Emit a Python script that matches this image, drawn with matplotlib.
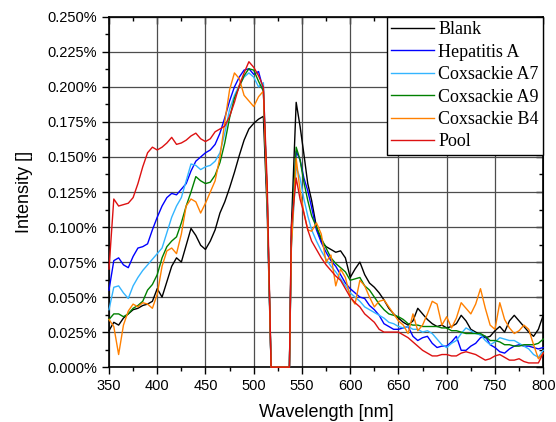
import numpy as np
import matplotlib
matplotlib.use("Agg")
import matplotlib.pyplot as plt
from matplotlib.ticker import MultipleLocator, FuncFormatter

# wavelength grid [nm]: left band, notch edges, right band
wl = list(range(350, 511, 5)) + [514, 518, 537, 539, 544, 548, 552, 556] + list(range(560, 801, 5))

# intensities in percent
blank = [0.026, 0.032, 0.030, 0.035, 0.038, 0.041, 0.042, 0.044, 0.045, 0.047,
         0.056, 0.050, 0.061, 0.072, 0.078, 0.075, 0.087, 0.099, 0.094, 0.087,
         0.084, 0.090, 0.098, 0.110, 0.118, 0.128, 0.139, 0.151, 0.162, 0.170,
         0.174, 0.177, 0.179,
         0.110, 0.0, 0.0, 0.100, 0.189, 0.172, 0.152, 0.131,
         0.119, 0.100, 0.090, 0.086, 0.084, 0.082, 0.083, 0.078, 0.064, 0.070,
         0.075, 0.066, 0.060, 0.057, 0.053, 0.048, 0.042, 0.038, 0.035, 0.032,
         0.030, 0.033, 0.042, 0.038, 0.034, 0.031, 0.029, 0.030, 0.028, 0.029,
         0.031, 0.037, 0.033, 0.027, 0.025, 0.023, 0.021, 0.022, 0.026, 0.029,
         0.025, 0.033, 0.037, 0.033, 0.029, 0.025, 0.022, 0.027, 0.037]

hepatitis_a = [0.055, 0.076, 0.078, 0.073, 0.071, 0.079, 0.085, 0.086, 0.088, 0.098,
               0.107, 0.115, 0.121, 0.124, 0.123, 0.127, 0.131, 0.140, 0.147, 0.150,
               0.153, 0.155, 0.159, 0.167, 0.178, 0.190, 0.200, 0.207, 0.212, 0.213,
               0.209, 0.211, 0.198,
               0.120, 0.0, 0.0, 0.090, 0.154, 0.148, 0.135, 0.126,
               0.114, 0.098, 0.089, 0.082, 0.076, 0.072, 0.066, 0.060, 0.056, 0.053,
               0.050, 0.049, 0.044, 0.041, 0.037, 0.031, 0.029, 0.027, 0.027, 0.028,
               0.029, 0.022, 0.019, 0.021, 0.022, 0.017, 0.014, 0.015, 0.015, 0.018,
               0.022, 0.012, 0.012, 0.015, 0.017, 0.021, 0.022, 0.016, 0.014, 0.011,
               0.010, 0.013, 0.015, 0.016, 0.015, 0.015, 0.014, 0.013, 0.014]

coxsackie_a7 = [0.041, 0.057, 0.058, 0.053, 0.049, 0.058, 0.064, 0.069, 0.073, 0.077,
                0.081, 0.085, 0.096, 0.107, 0.115, 0.121, 0.133, 0.145, 0.144, 0.141,
                0.143, 0.144, 0.147, 0.153, 0.167, 0.184, 0.194, 0.201, 0.207, 0.210,
                0.207, 0.200, 0.203,
                0.120, 0.0, 0.0, 0.085, 0.143, 0.135, 0.120, 0.108,
                0.098, 0.090, 0.083, 0.077, 0.072, 0.068, 0.063, 0.058, 0.053, 0.050,
                0.047, 0.043, 0.041, 0.039, 0.037, 0.035, 0.032, 0.031, 0.029, 0.028,
                0.029, 0.027, 0.027, 0.025, 0.026, 0.024, 0.020, 0.016, 0.014, 0.017,
                0.019, 0.024, 0.028, 0.026, 0.024, 0.023, 0.019, 0.016, 0.018, 0.021,
                0.020, 0.019, 0.019, 0.017, 0.015, 0.013, 0.009, 0.007, 0.012]

coxsackie_a9 = [0.034, 0.038, 0.038, 0.036, 0.038, 0.042, 0.044, 0.047, 0.055, 0.059,
                0.066, 0.078, 0.086, 0.090, 0.093, 0.103, 0.115, 0.125, 0.136, 0.133,
                0.131, 0.132, 0.137, 0.146, 0.160, 0.178, 0.192, 0.200, 0.208, 0.213,
                0.212, 0.204, 0.197,
                0.120, 0.0, 0.0, 0.090, 0.157, 0.148, 0.132, 0.119,
                0.108, 0.100, 0.092, 0.085, 0.078, 0.074, 0.071, 0.068, 0.062, 0.063,
                0.064, 0.058, 0.055, 0.050, 0.045, 0.041, 0.038, 0.037, 0.036, 0.034,
                0.031, 0.030, 0.030, 0.029, 0.029, 0.029, 0.029, 0.028, 0.028, 0.026,
                0.026, 0.025, 0.024, 0.024, 0.024, 0.024, 0.022, 0.019, 0.019, 0.018,
                0.016, 0.016, 0.015, 0.015, 0.016, 0.016, 0.016, 0.017, 0.020]

coxsackie_b4 = [0.034, 0.029, 0.009, 0.030, 0.040, 0.045, 0.043, 0.046, 0.045, 0.042,
                0.052, 0.072, 0.083, 0.085, 0.081, 0.095, 0.115, 0.120, 0.118, 0.110,
                0.117, 0.125, 0.133, 0.150, 0.175, 0.198, 0.210, 0.206, 0.194, 0.190,
                0.186, 0.193, 0.197,
                0.120, 0.0, 0.0, 0.085, 0.149, 0.126, 0.110, 0.098,
                0.097, 0.103, 0.095, 0.075, 0.080, 0.058, 0.070, 0.064, 0.050, 0.045,
                0.062, 0.058, 0.050, 0.043, 0.047, 0.048, 0.043, 0.038, 0.033, 0.030,
                0.024, 0.038, 0.026, 0.030, 0.038, 0.047, 0.045, 0.030, 0.036, 0.028,
                0.035, 0.046, 0.042, 0.038, 0.045, 0.056, 0.042, 0.030, 0.027, 0.046,
                0.034, 0.028, 0.024, 0.026, 0.030, 0.027, 0.016, 0.006, 0.010]

pool = [0.070, 0.120, 0.115, 0.116, 0.117, 0.121, 0.131, 0.143, 0.153, 0.157,
        0.155, 0.157, 0.160, 0.164, 0.159, 0.160, 0.162, 0.165, 0.167, 0.163,
        0.161, 0.163, 0.168, 0.170, 0.172, 0.179, 0.189, 0.201, 0.210, 0.218,
        0.214, 0.208, 0.200,
        0.130, 0.0, 0.0, 0.100, 0.135, 0.120, 0.110, 0.098,
        0.090, 0.084, 0.078, 0.073, 0.069, 0.065, 0.062, 0.056, 0.050, 0.046,
        0.043, 0.038, 0.035, 0.032, 0.027, 0.025, 0.025, 0.025, 0.025, 0.023,
        0.021, 0.018, 0.015, 0.012, 0.010, 0.008, 0.008, 0.009, 0.009, 0.008,
        0.008, 0.010, 0.011, 0.010, 0.009, 0.007, 0.005, 0.006, 0.008, 0.009,
        0.007, 0.005, 0.005, 0.006, 0.004, 0.003, 0.003, 0.003, 0.010]

names = ["Blank", "Hepatitis A", "Coxsackie A7", "Coxsackie A9", "Coxsackie B4", "Pool"]
series = [blank, hepatitis_a, coxsackie_a7, coxsackie_a9, coxsackie_b4, pool]
colors = ["black", "#0000ff", "#33b5ff", "#008000", "#ff8000", "#dd1111"]

fig = plt.figure(figsize=(5.56, 4.22), dpi=100)
ax = fig.add_axes([0.196, 0.130, 0.781, 0.830])

for name, vals, col in zip(names, series, colors):
    ax.plot(wl, vals, color=col, lw=1.0, label=name, zorder=3, clip_on=False)

ax.set_xlim(350, 800)
ax.set_ylim(0, 0.25)
ax.xaxis.set_major_locator(MultipleLocator(50))
ax.xaxis.set_minor_locator(MultipleLocator(25))
ax.yaxis.set_major_locator(MultipleLocator(0.025))
ax.yaxis.set_minor_locator(MultipleLocator(0.0125))
ax.yaxis.set_major_formatter(FuncFormatter(lambda v, p: "%.3f%%" % v))

ax.grid(True, which="major", color="0.3", lw=0.9)
ax.set_axisbelow(True)
for s in ax.spines.values():
    s.set_linewidth(1.2)
    s.set_zorder(2)

ax.tick_params(which="both", direction="out", top=False, right=False,
               labelsize=10.5, width=1.0)
ax.tick_params(which="major", length=5)
ax.tick_params(which="minor", length=3)
for lab in ax.get_xticklabels() + ax.get_yticklabels():
    lab.set_family("Liberation Sans")

# inward ticks on the top and right edges
ax_t = ax.secondary_xaxis("top")
ax_t.xaxis.set_major_locator(MultipleLocator(50))
ax_t.xaxis.set_minor_locator(MultipleLocator(25))
ax_t.tick_params(which="both", direction="in", labeltop=False, width=1.0)
ax_t.tick_params(which="major", length=5)
ax_t.tick_params(which="minor", length=3)
ax_r = ax.secondary_yaxis("right")
ax_r.yaxis.set_major_locator(MultipleLocator(0.025))
ax_r.yaxis.set_minor_locator(MultipleLocator(0.0125))
ax_r.tick_params(which="both", direction="in", labelright=False, width=1.0)
ax_r.tick_params(which="major", length=5)
ax_r.tick_params(which="minor", length=3)

ax.set_xlabel("Wavelength [nm]", family="Liberation Sans", fontsize=13, labelpad=8)
ax.set_ylabel("Intensity []", family="Liberation Sans", fontsize=13, labelpad=10)

leg = ax.legend(loc="upper right", borderaxespad=0, fancybox=False,
                framealpha=1, edgecolor="black", handlelength=2.35,
                handletextpad=0.25, labelspacing=0.3, borderpad=0.25,
                prop={"family": "Liberation Serif", "size": 13})
leg.get_frame().set_linewidth(1.0)
leg.set_zorder(5)

fig.savefig("out.png", dpi=100)
